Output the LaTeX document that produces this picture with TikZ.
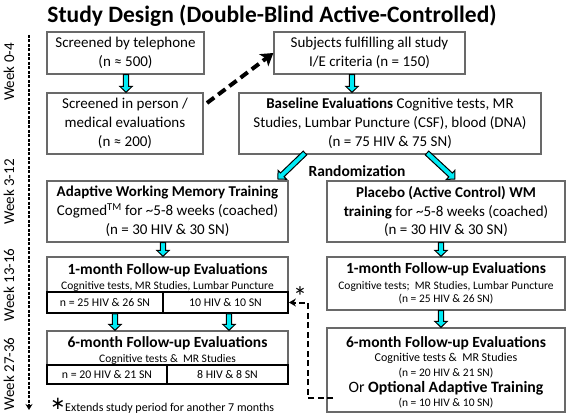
\documentclass[tikz,border=0pt]{standalone}
\usepackage{fontspec}
\setmainfont{Carlito}
\newfontfamily\djv{DejaVu Sans}
\usetikzlibrary{arrows.meta,calc}
\definecolor{boxgray}{RGB}{105,105,105}
\definecolor{acyan}{RGB}{0,235,245}
\newcommand\fs[2]{\fontsize{#1}{#2}\selectfont}
\newcommand\vbarrow[3]{%
  \draw[barrowst] let \p1=(#2), \p2=(#3) in
   (#1pt-2.6pt,\y1) -- (#1pt+2.6pt,\y1) -- (#1pt+2.6pt,\y2+6pt) -- (#1pt+6.2pt,\y2+6pt)
   -- (#1pt,\y2) -- (#1pt-6.2pt,\y2+6pt) -- (#1pt-2.6pt,\y2+6pt) -- cycle;}
\newcommand\dbarrow[3]{%
  \begin{scope}[shift={(#1)}, rotate=#2]
  \draw[barrowst] (0pt,-2.6pt) -- (#3pt-6pt,-2.6pt) -- (#3pt-6pt,-6.2pt) -- (#3pt,0pt)
   -- (#3pt-6pt,6.2pt) -- (#3pt-6pt,2.6pt) -- (0pt,2.6pt) -- cycle;
  \end{scope}}
\begin{document}
\begin{tikzpicture}[x=1pt,y=-1pt,
  box/.style={draw=boxgray, line width=1.3pt, align=center, inner sep=0pt, font=\fs{15}{18.8}},
  sub/.style={draw=black, line width=1.8pt, inner sep=0pt, font=\fs{11.8}{13}},
  ttl/.style={font=\bfseries\fs{15.5}{17}, inner sep=0pt},
  small/.style={font=\fs{11.5}{13}, inner sep=0pt},
  week/.style={rotate=90, font=\fs{15}{17}, inner sep=0pt},
  starst/.style={font=\fs{28}{28}, inner sep=0pt, anchor=north},
  barrowst/.style={draw=black, fill=acyan, line width=1pt, line join=miter},
  bigdash/.style={line width=4pt, dash pattern=on 9pt off 5pt, -{Stealth[length=12pt,width=15pt,inset=3pt]}},
  stardash/.style={line width=2pt, dash pattern=on 6pt off 3.5pt, -{Stealth[length=7pt,width=8pt]}},
  timeline/.style={line width=1.6pt, dash pattern=on 3pt off 1.5pt, -{Stealth[length=6pt,width=7pt]}}]
\useasboundingbox (0,0) rectangle (567,417);

\node[font=\bfseries\fs{23.5}{27}, inner sep=0pt] (title) at (272,16) {Study Design (Double-Blind Active-Controlled)};

% timeline
\coordinate (tl0) at (29,35);
\coordinate (tl1) at (29,410);
\draw[timeline] (tl0) -- (tl1);
\node[week] (w1) at (9,72) {Week 0-4};
\node[week] (w2) at (9,192) {Week 3-12};
\node[week] (w3) at (9,285) {Week 13-16};
\node[week] (w4) at (9,374) {Week 27-36};

% top boxes
\node[box, minimum width=157pt, minimum height=42pt] (tel) at (125.5,53) {Screened by telephone\\(n ≈ 500)};
\node[box, minimum width=156pt, minimum height=61pt] (inp) at (125,123.5) {Screened in person /\\medical evaluations\\(n ≈ 200)};
\node[box, minimum width=191pt, minimum height=42pt] (subj) at (369.5,53) {Subjects fulfilling all study\\I/E criteria (n = 150)};
\node[box, minimum width=302pt, minimum height=61pt] (base) at (390,123.5) {\textbf{Baseline Evaluations} Cognitive tests, MR\\Studies, Lumbar Puncture (CSF), blood (DNA)\\(n = 75 HIV \& 75 SN)};

% training boxes
\node[box, minimum width=241pt, minimum height=61pt] (adap) at (167.5,211.5) {\textbf{Adaptive Working Memory Training}\\Cogmed\textsuperscript{TM} for \textasciitilde5-8 weeks (coached)\\(n = 30 HIV \& 30 SN)};
\node[box, minimum width=238pt, minimum height=61pt] (plac) at (446,211.5) {\textbf{Placebo (Active Control) WM}\\\textbf{training} for \textasciitilde5-8 weeks (coached)\\(n = 30 HIV \& 30 SN)};
\node[font=\bfseries\fs{15.5}{17}, inner sep=0pt] (rand) at (357,171) {Randomization};

% 1-month left
\node[box, minimum width=241pt, minimum height=56pt] (om1L) at (167.5,285) {};
\node[ttl] (om1Lt) at (167.5,270) {1-month Follow-up Evaluations};
\node[small] (om1Ls) at (167.5,286.5) {Cognitive tests, MR Studies, Lumbar Puncture};
\node[sub, minimum width=116pt, minimum height=21pt] (om1La) at (105,302.5) {n = 25 HIV \& 26 SN};
\node[sub, minimum width=125pt, minimum height=21pt] (om1Lb) at (225.5,302.5) {10 HIV \& 10 SN};

% 6-month left
\node[box, minimum width=241pt, minimum height=53pt] (om6L) at (167.5,357.5) {};
\node[ttl] (om6Lt) at (167.5,343) {6-month Follow-up Evaluations};
\node[small] (om6Ls) at (167.5,359.5) {Cognitive tests \&\ \ MR Studies};
\node[sub, minimum width=120pt, minimum height=19pt] (om6La) at (107,374.5) {n = 20 HIV \& 21 SN};
\node[sub, minimum width=121pt, minimum height=19pt] (om6Lb) at (227.5,374.5) {8 HIV \& 8 SN};

% 1-month right
\node[box, minimum width=238pt, minimum height=53pt] (om1R) at (446,283.5) {};
\node[ttl] (om1Rt) at (446,269) {1-month Follow-up Evaluations};
\node[small] (om1Rs) at (446,286) {Cognitive tests;\ \ MR Studies, Lumbar Puncture};
\node[small] (om1Rn) at (446,299) {(n = 25 HIV \& 26 SN)};

% 6-month right
\node[box, minimum width=238pt, minimum height=84pt] (om6R) at (446,370) {};
\node[ttl] (om6Rt) at (446,343) {6-month Follow-up Evaluations};
\node[font=\fs{12}{13}, inner sep=0pt] (om6Rs) at (446,358) {Cognitive tests \&\ \ MR Studies};
\node[small] (om6Rn) at (446,373) {(n = 20 HIV \& 21 SN)};
\node[font=\fs{15.8}{17}, inner sep=0pt] (om6Ro) at (446,388) {Or \textbf{Optional Adaptive Training}};
\node[small] (om6Rm) at (446,403) {(n = 10 HIV \& 10 SN)};

% footnote
\node[font=\djv\fs{18}{18}, inner sep=0pt, anchor=base] (fnstar) at (58,409) {∗};
\node[anchor=west, font=\fs{12}{13}, inner sep=0pt] (fn) at (65,408.5) {Extends study period for another 7 months};
\node[starst] (star) at (300,286) {*};

% cyan block arrows
\vbarrow{126}{tel.south}{inp.north}
\vbarrow{352}{subj.south}{base.north}
\vbarrow{163}{adap.south}{om1L.north}
\vbarrow{441}{plac.south}{om1R.north}
\vbarrow{441}{om1R.south}{om6R.north}
\vbarrow{115}{om1La.south}{om6L.north}
\vbarrow{229}{om1Lb.south}{om6L.north}
\dbarrow{305,153}{223.9}{37.5}
\dbarrow{427,153}{-42.9}{38.2}

% dashed connectors
\coordinate (d0) at (207,103);
\draw[bigdash] (d0) -- (subj.west);
\coordinate (s0) at (333,398);
\coordinate (s1) at (308,398);
\draw[stardash] (s0) -- (s1) |- (om1Lb.east);
\end{tikzpicture}
\end{document}
